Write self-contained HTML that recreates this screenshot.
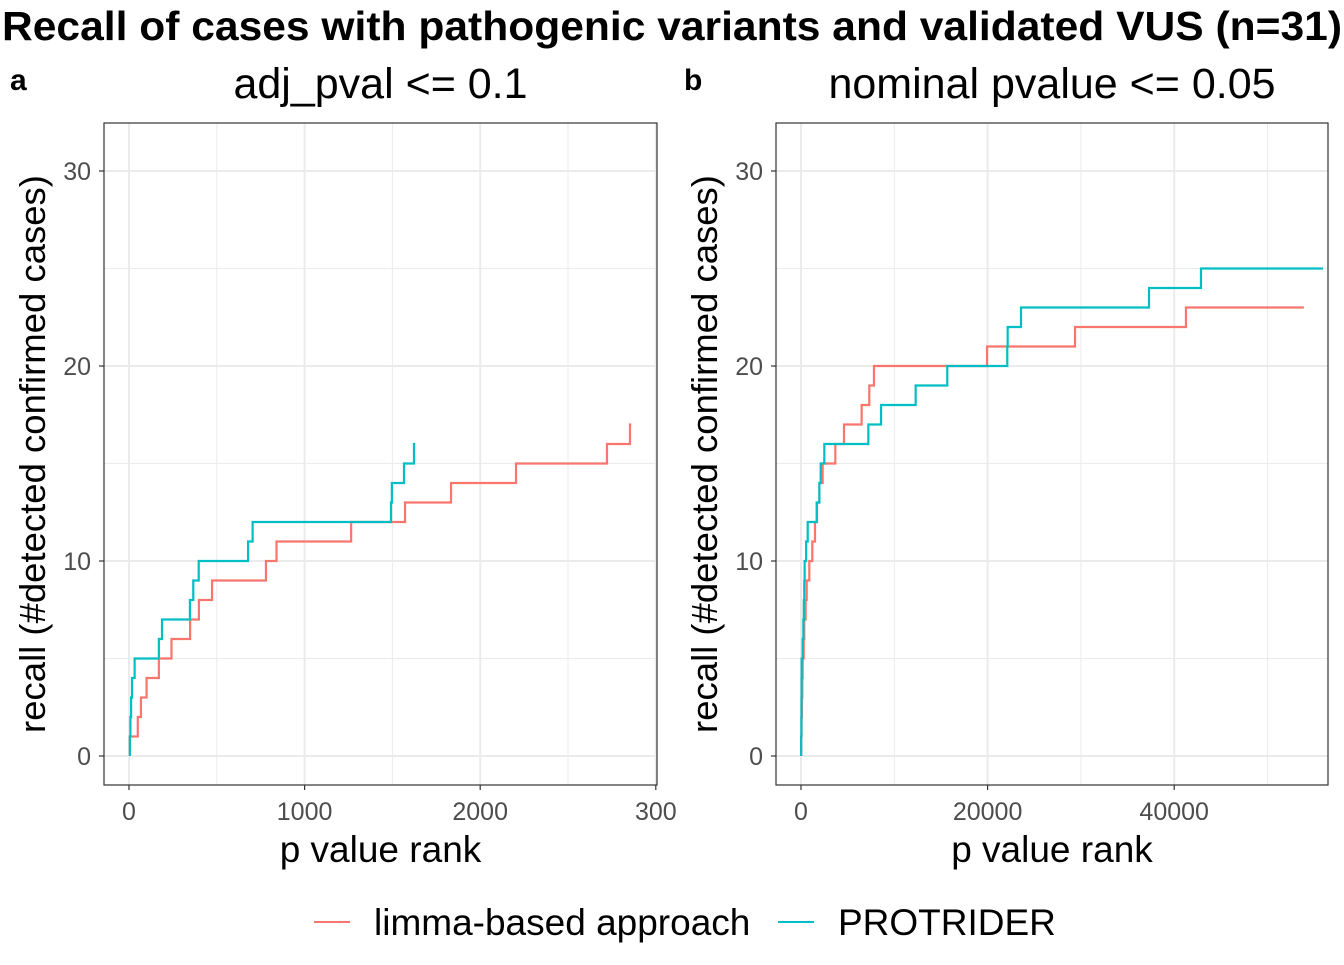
<!DOCTYPE html>
<html><head><meta charset="utf-8"><style>
body{margin:0;background:#fff;}
svg text{font-family:"Liberation Sans",Arial,sans-serif;}
</style></head><body>
<svg id="chart" width="1344" height="960" viewBox="0 0 1344 960" xmlns="http://www.w3.org/2000/svg">
<text x="672" y="40" text-anchor="middle" font-size="41" font-weight="bold" fill="#000" textLength="1340" lengthAdjust="spacingAndGlyphs">Recall of cases with pathogenic variants and validated VUS (n=31)</text>
<g id="legend">
<g><line x1="314" y1="922" x2="350" y2="922" stroke="#F8766D" stroke-width="2"/><text x="374" y="935" font-size="37" fill="#000">limma-based approach</text></g>
<g><line x1="778" y1="922" x2="814" y2="922" stroke="#00BFC4" stroke-width="2"/><text x="838" y="935" font-size="37" fill="#000">PROTRIDER</text></g>
</g>
</svg>
<script>
// Panel a data (rank at which recall reaches each value)
const aLimmaRanks = [5,50,68,100,170,242,348,398,473,780,840,1265,1572,1834,2204,2722,2853];
const aLimmaRecall = [1,2,3,4,5,6,7,8,9,10,11,12,13,14,15,16,17];
const aLimmaEnd = 2860;
const aProtRanks = [5,8,12,17,32,170,188,347,366,397,678,704,1492,1497,1566,1623];
const aProtRecall = [1,2,3,4,5,6,7,8,9,10,11,12,13,14,15,16];
const aProtEnd = 1630;
// Panel b data
const bLimmaRanks = [20,60,100,140,180,290,350,500,610,890,1210,1500,1720,1970,2320,3680,4610,6500,7320,7820,19940,29370,41260];
const bLimmaRecall = [1,2,3,4,5,6,7,8,9,10,11,12,13,14,15,16,17,18,19,20,21,22,23];
const bLimmaEnd = 53900;
const bProtRanks = [20,40,50,60,70,180,250,300,350,390,550,720,1680,1970,2110,2500,7220,8580,12290,15680,22110,22150,23580,37300,42870];
const bProtRecall = [1,2,3,4,5,6,7,8,9,10,11,12,13,14,15,16,17,18,19,20,21,22,23,24,25];
const bProtEnd = 55950;
const aXTicks = [0,1000,2000,3000];
const aXTickLabels = ["0","1000","2000","300"];
const bXTicks = [0,20000,40000];
const bXTickLabels = ["0","20000","40000"];
const yTicks = [0,10,20,30];

const NS="http://www.w3.org/2000/svg";
const svg=document.getElementById('chart');
function mk(tag,attrs,parent){const e=document.createElementNS(NS,tag);for(const k in attrs)e.setAttribute(k,attrs[k]);(parent||svg).appendChild(e);return e;}

function panel(cfg){
  const {px0,px1,py0,py1,name}=cfg;
  const g=mk('g',{});
  
  
  const X=v=>cfg.x0px+v*cfg.xk, Y=v=>756-v*19.5;
  for(let i=0;i<cfg.xTicks.length;i++){
    const m=cfg.xTicks[i]+(cfg.xTicks[1]-cfg.xTicks[0])/2;
    if(X(m)<px1) mk('line',{x1:X(m),x2:X(m),y1:py0,y2:py1,stroke:'#ebebeb','stroke-width':1},g);
  }
  for(let v=5;v<35;v+=10) mk('line',{x1:px0,x2:px1,y1:Y(v),y2:Y(v),stroke:'#ebebeb','stroke-width':1},g);
  cfg.xTicks.forEach((t,i)=>{
    const l=mk('line',{x1:X(t),x2:X(t),y1:py0,y2:py1,stroke:'#ebebeb','stroke-width':2},g);
    
    
    mk('line',{x1:X(t),x2:X(t),y1:py1,y2:py1+5,stroke:'#333','stroke-width':1.2},g);
    const tx=mk('text',{x:X(t),y:py1+35,'text-anchor':'middle','font-size':25,fill:'#4d4d4d'},g);
    tx.textContent=cfg.xTickLabels[i];
    
    
  });
  yTicks.forEach(t=>{
    mk('line',{x1:px0,x2:px1,y1:Y(t),y2:Y(t),stroke:'#ebebeb','stroke-width':2},g);
    mk('line',{x1:px0-5,x2:px0,y1:Y(t),y2:Y(t),stroke:'#333','stroke-width':1.2},g);
    const tx=mk('text',{x:px0-13,y:Y(t)+9,'text-anchor':'end','font-size':25,fill:'#4d4d4d'},g);
    tx.textContent=t;
    
    
  });
  cfg.series.forEach(s=>{
    let d=`M${X(s.ranks[0])},${Y(0)}`;
    for(let i=0;i<s.ranks.length;i++){
      d+=` H${X(s.ranks[i])} V${Y(s.recall[i])}`;
    }
    d+=` H${X(s.end)}`;
    const p=mk('path',{d:d,fill:'none',stroke:s.color,'stroke-width':2.2},g);
    
    
  });
  const r=mk('rect',{x:px0,y:py0,width:px1-px0,height:py1-py0,fill:'none',stroke:'#333','stroke-width':1.2},g);
  
  
  const t=mk('text',{x:(px0+px1)/2,y:98,'text-anchor':'middle','font-size':43,fill:'#000'},g);
  t.textContent=cfg.title;
  
  
  const tag=mk('text',{x:cfg.tagX,y:90,'font-size':30,'font-weight':'bold',fill:'#000'},g);
  tag.textContent=cfg.tag;
  
  
  const xt=mk('text',{x:(px0+px1)/2,y:862,'text-anchor':'middle','font-size':37,fill:'#000'},g);
  xt.textContent='p value rank';
  
  
  const yt=mk('text',{x:0,y:0,'text-anchor':'middle','font-size':36.5,fill:'#000',transform:`translate(${px0-59},${(py0+py1)/2}) rotate(-90)`},g);
  yt.textContent='recall (#detected confirmed cases)';
  
  
}
panel({name:'panel-a',px0:104,px1:657,py0:123,py1:785,x0px:129,xk:0.1756,xTicks:aXTicks,xTickLabels:aXTickLabels,title:'adj_pval <= 0.1',tag:'a',tagX:10,
  series:[{name:'line-limma-a',ranks:aLimmaRanks,recall:aLimmaRecall,end:aLimmaEnd,color:'#F8766D'},{name:'line-protrider-a',ranks:aProtRanks,recall:aProtRecall,end:aProtEnd,color:'#00BFC4'}]});
panel({name:'panel-b',px0:776,px1:1328,py0:123,py1:785,x0px:801,xk:0.00933,xTicks:bXTicks,xTickLabels:bXTickLabels,title:'nominal pvalue <= 0.05',tag:'b',tagX:684,
  series:[{name:'line-limma-b',ranks:bLimmaRanks,recall:bLimmaRecall,end:bLimmaEnd,color:'#F8766D'},{name:'line-protrider-b',ranks:bProtRanks,recall:bProtRecall,end:bProtEnd,color:'#00BFC4'}]});
</script>
</body></html>
